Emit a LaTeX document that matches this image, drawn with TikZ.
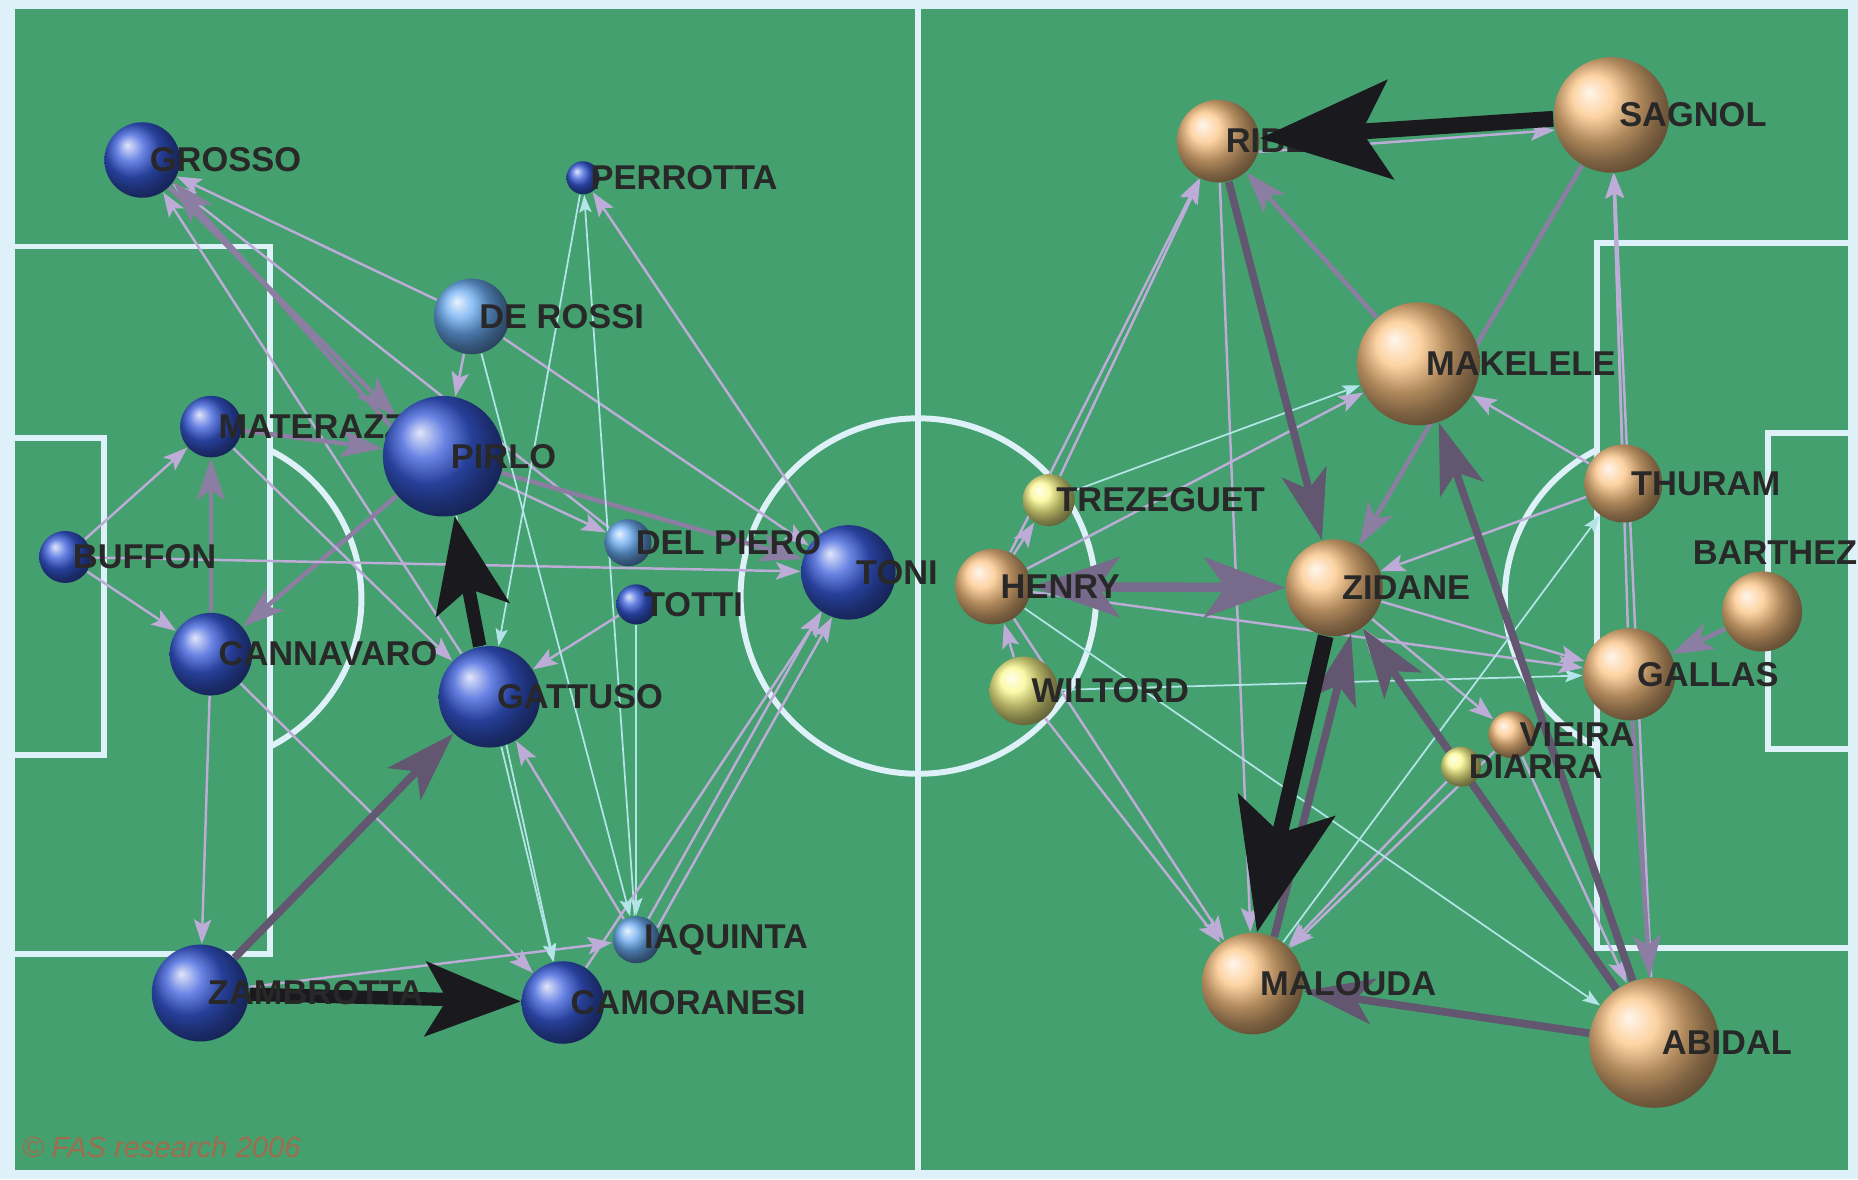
\documentclass[tikz,border=0pt]{standalone}
\usepackage{fontspec}
\setmainfont{Liberation Sans}
\usetikzlibrary{arrows.meta}
\definecolor{pitch}{RGB}{68,160,110}
\definecolor{chalk}{RGB}{222,240,248}
\definecolor{ita}{RGB}{55,90,218}
\definecolor{italt}{RGB}{105,170,240}
\definecolor{fra}{RGB}{252,196,132}
\definecolor{fralt}{RGB}{250,248,140}
\definecolor{lav}{RGB}{188,172,215}
\definecolor{cyn}{RGB}{178,228,232}
\definecolor{mauve}{RGB}{140,125,162}
\definecolor{dusk}{RGB}{98,86,112}
\definecolor{ink}{RGB}{25,25,30}
\definecolor{txt}{RGB}{40,40,40}
\definecolor{fas}{RGB}{185,95,70}
\pgfdeclarelayer{field}
\pgfdeclarelayer{edges}
\pgfsetlayers{field,edges,main}
\newcommand{\player}[6]{%
  \node[plball, ball color=#5, minimum size=#4pt] (#1) at (#2,#3) {};
  \node[lab] (#1-t) at ([xshift=2pt]#1.center) {#6};}

\begin{document}
\begin{tikzpicture}[x=0.01185cm, y=-0.01185cm,
    plball/.style={circle, shading=ball, inner sep=0pt},
    lab/.style={anchor=west, inner sep=0pt, text=txt, font=\bfseries\fontsize{9.8}{12}\selectfont},
    line/.style={draw=chalk, line width=1.7pt},
    cy/.style={draw=cyn, line width=0.5pt, -{Stealth[length=5pt,width=3.5pt,inset=1pt]}},
    lt/.style={draw=lav, line width=0.7pt, -{Stealth[length=7pt,width=5pt,inset=1.5pt]}},
    md/.style={draw=mauve, line width=1.3pt, -{Stealth[length=12pt,width=8pt,inset=3pt]}},
    dk/.style={draw=dusk, line width=2.2pt, -{Stealth[length=20pt,width=13pt,inset=5pt]}},
    dbl/.style={draw=mauve!85!black, line width=2.7pt, {Stealth[length=25pt,width=17pt,inset=6pt]}-{Stealth[length=23pt,width=17pt,inset=6pt]}},
    bk/.style={draw=ink, line width=3.8pt, -{Stealth[length=27pt,width=21pt,inset=6pt]}},
    bkbig/.style={draw=ink, line width=4.5pt, -{Stealth[length=37pt,width=28pt,inset=8pt]}}]
\useasboundingbox (0,0) rectangle (1568,995);

\begin{pgfonlayer}{field}
  \fill[chalk] (0,0) rectangle (1568,995);
  \fill[pitch] (10,5) rectangle (1562,990);
  \draw[line] (10,5) rectangle (1562,990);
  \draw[line] (775,5) -- (775,990);
  \draw[line] (775,503) circle[radius=150];
  \draw[line] (10,208) rectangle (228,805);
  \draw[line] (10,370) rectangle (88,637);
  \draw[line] (165,505) ++(-63.25:140) arc[start angle=-63.25, end angle=63.25, radius=140];
  \draw[line] (1348,205) rectangle (1562,800);
  \draw[line] (1492,365) rectangle (1562,632);
  \draw[line] (1410,505) ++(116.75:140) arc[start angle=116.75, end angle=243.25, radius=140];
\end{pgfonlayer}

\player{grosso}{120}{135}{21.5}{ita}{GROSSO}
\player{perrotta}{492}{150}{9.4}{ita}{PERROTTA}
\player{derossi}{398}{267}{21.5}{italt}{DE ROSSI}
\player{materazzi}{178}{360}{17.5}{ita}{MATERAZZI}
\player{pirlo}{374}{385}{34.3}{ita}{PIRLO}
\player{buffon}{55}{470}{14.8}{ita}{BUFFON}
\player{toni}{716}{483}{26.9}{ita}{TONI}
\player{delpiero}{530}{458}{13.4}{italt}{DEL PIERO}
\player{totti}{537}{510}{11.4}{ita}{TOTTI}
\player{cannavaro}{178}{552}{23.5}{ita}{CANNAVARO}
\player{gattuso}{413}{588}{28.9}{ita}{GATTUSO}
\player{iaquinta}{537}{793}{13.4}{italt}{IAQUINTA}
\player{zambrotta}{169}{838}{27.6}{ita}{ZAMBROTTA}
\player{camoranesi}{475}{846}{23.5}{ita}{CAMORANESI}

\player{ribery}{1028}{119}{23.5}{fra}{RIBERY}
\player{sagnol}{1360}{97}{32.9}{fra}{SAGNOL}
\player{makelele}{1197}{307}{35}{fra}{MAKELELE}
\player{trezeguet}{885}{422}{14.8}{fralt}{TREZEGUET}
\player{thuram}{1370}{408}{22.2}{fra}{THURAM}
\node[plball, ball color=fra, minimum size=22.8pt] (barthez) at (1487,516) {};
\node[lab] (barthez-t) at (1428,466) {BARTHEZ};
\player{henry}{838}{495}{21.5}{fra}{HENRY}
\player{zidane}{1126}{496}{27.6}{fra}{ZIDANE}
\player{gallas}{1375}{569}{26.2}{fra}{GALLAS}
\player{wiltord}{864}{583}{19.5}{fralt}{WILTORD}
\player{vieira}{1276}{620}{13.4}{fra}{VIEIRA}
\player{diarra}{1233}{647}{11.4}{fralt}{DIARRA}
\player{malouda}{1057}{830}{28.9}{fra}{MALOUDA}
\player{abidal}{1396}{880}{37}{fra}{ABIDAL}

\node[anchor=west, inner sep=0pt, text=fas, opacity=0.8, font=\itshape\fontsize{8.3}{10}\selectfont] (fas) at (18,968) {© FAS research 2006};

\begin{pgfonlayer}{edges}
  \draw[lt] (derossi) -- (grosso);
  \draw[lt] (gattuso) -- (grosso);
  \draw[lt] (delpiero) -- (grosso);
  \draw[md] (pirlo.150) -- (grosso.-35);
  \draw[md] (grosso.-45) -- (pirlo.140);
  \draw[md] (materazzi) -- (pirlo);
  \draw[md] (pirlo) -- (cannavaro);
  \draw[md] (cannavaro) -- (materazzi);
  \draw[lt] (buffon) -- (materazzi);
  \draw[lt] (buffon) -- (toni);
  \draw[lt] (buffon) -- (cannavaro);
  \draw[lt] (cannavaro) -- (zambrotta);
  \draw[lt] (cannavaro) -- (camoranesi);
  \draw[lt] (materazzi) -- (gattuso);
  \draw[md] (pirlo) -- (toni);
  \draw[lt] (derossi) -- (toni);
  \draw[lt] (derossi) -- (pirlo);
  \draw[lt] (pirlo) -- (delpiero);
  \draw[lt] (toni) -- (perrotta);
  \draw[cy] (perrotta) -- (gattuso);
  \draw[cy] (iaquinta) -- (perrotta);
  \draw[lt] (totti) -- (gattuso);
  \draw[cy] (totti) -- (iaquinta);
  \draw[lt] (iaquinta.60) -- (toni.-125);
  \draw[lt] (iaquinta.30) -- (toni.-110);
  \draw[lt] (camoranesi) -- (toni);
  \draw[lt] (iaquinta) -- (gattuso);
  \draw[cy] (gattuso) -- (camoranesi);
  \draw[lt] (zambrotta) -- (iaquinta);
  \draw[cy] (derossi) -- (iaquinta);
  \draw[cy] (pirlo) -- (camoranesi);
  \draw[dk] (zambrotta) -- (gattuso);
  \draw[bk] (gattuso) -- (pirlo);
  \draw[bk] (zambrotta) -- (camoranesi);

  \draw[lt] (ribery.-15) -- (sagnol.-165);
  \draw[md] (makelele) -- (ribery);
  \draw[lt] (trezeguet) -- (ribery);
  \draw[lt] (henry) -- (ribery);
  \draw[lt] (ribery) -- (malouda);
  \draw[cy] (trezeguet) -- (makelele);
  \draw[lt] (henry) -- (makelele);
  \draw[lt] (thuram) -- (makelele);
  \draw[md] (sagnol) -- (zidane);
  \draw[lt] (thuram) -- (sagnol);
  \draw[lt] (gallas) -- (sagnol);
  \draw[lt] (abidal) -- (sagnol);
  \draw[md] (barthez) -- (gallas);
  \draw[lt] (zidane) -- (gallas);
  \draw[cy] (wiltord) -- (gallas);
  \draw[lt] (henry) -- (gallas);
  \draw[lt] (henry) -- (malouda);
  \draw[lt] (wiltord) -- (malouda);
  \draw[lt] (diarra) -- (malouda);
  \draw[lt] (vieira) -- (malouda);
  \draw[cy] (henry) -- (abidal);
  \draw[lt] (vieira) -- (abidal);
  \draw[lt] (wiltord) -- (henry);
  \draw[lt] (henry) -- (trezeguet);
  \draw[lt] (zidane) -- (vieira);
  \draw[lt] (diarra) -- (zidane);
  \draw[lt] (thuram) -- (zidane);
  \draw[cy] (malouda) -- (thuram);
  \draw[md] (gallas) -- (abidal);
  \draw[dk] (ribery) -- (zidane);
  \draw[dk] (abidal) -- (makelele);
  \draw[dk] (abidal) -- (zidane);
  \draw[dk] (abidal) -- (malouda);
  \draw[dbl] (henry) -- (zidane);
  \draw[dk] (malouda.65) -- (zidane.-70);
  \draw[bkbig] (zidane.-100) -- (malouda.85);
\end{pgfonlayer}

\draw[bkbig] (sagnol) -- (ribery);
\end{tikzpicture}
\end{document}
